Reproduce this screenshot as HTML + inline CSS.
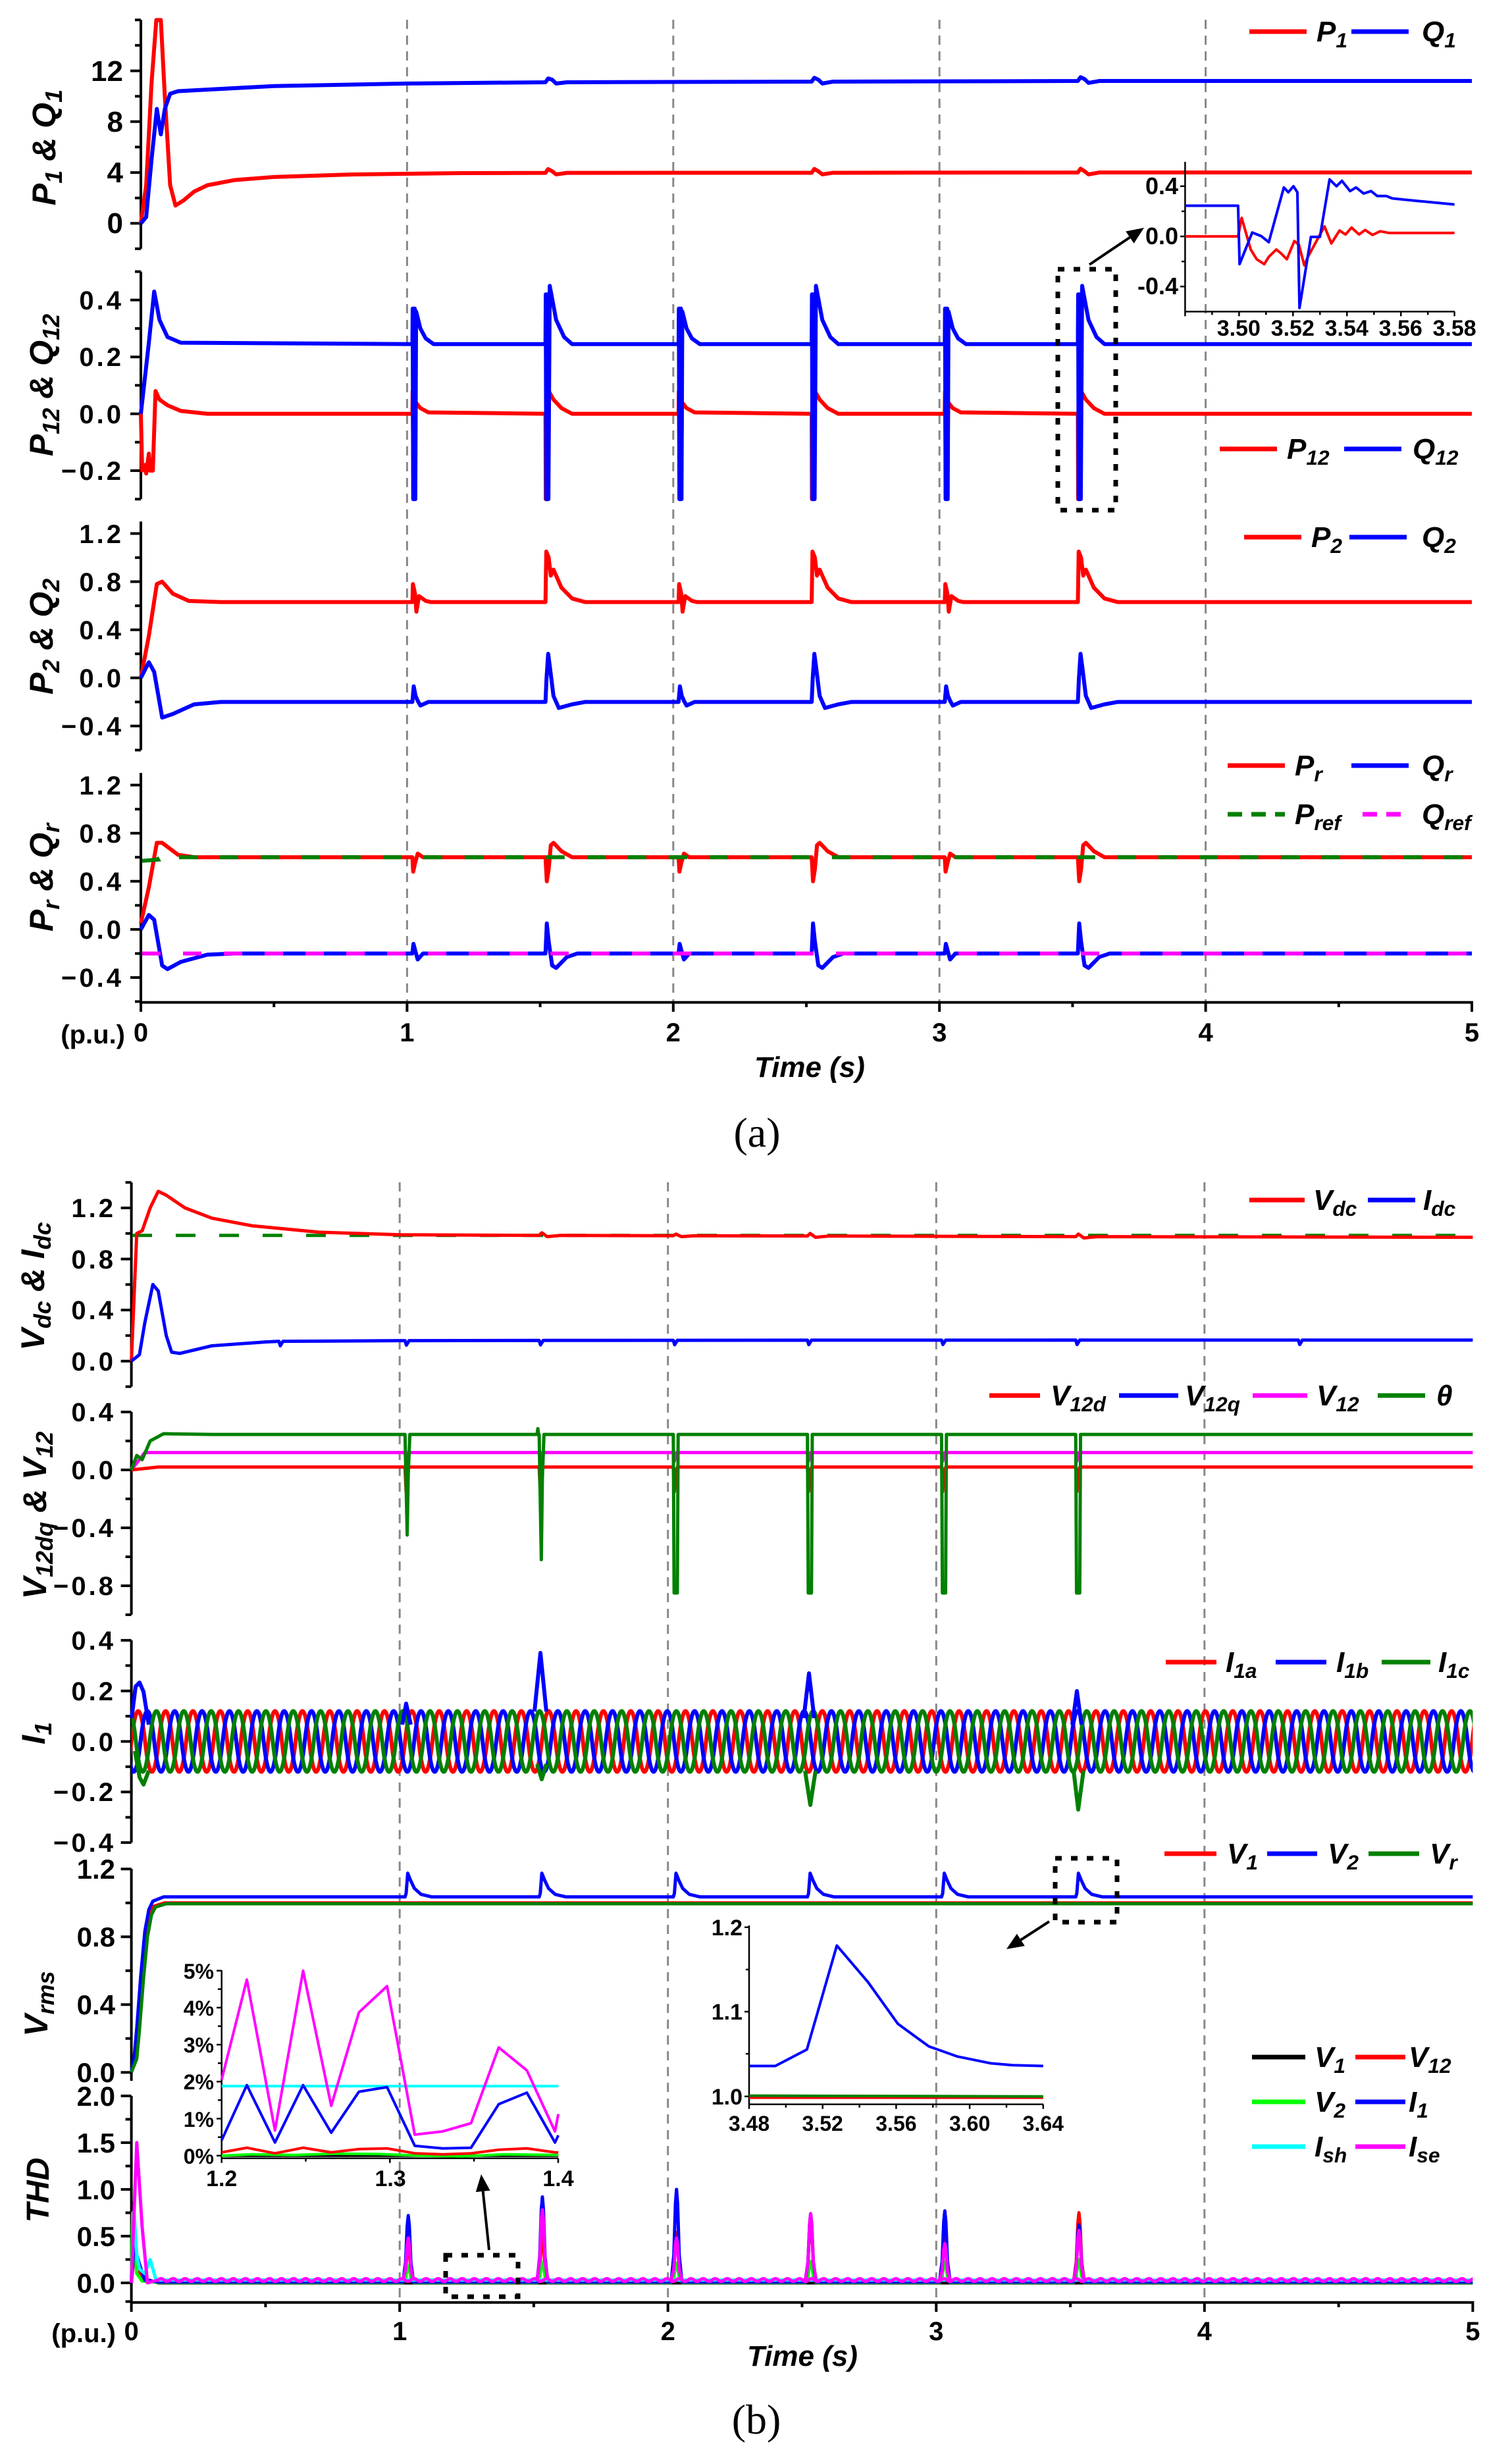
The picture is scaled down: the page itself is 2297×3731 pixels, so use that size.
<!DOCTYPE html>
<html><head><meta charset="utf-8"><style>
body{margin:0;background:#fff}svg{display:block}
.d polyline,.d path{vector-effect:non-scaling-stroke;fill:none;stroke-linejoin:round}
text{font-family:"Liberation Sans",Arial,sans-serif;font-weight:bold}
.it{font-style:italic}
.ax{stroke:#000;stroke-width:4;fill:none}
.ix{stroke:#000;stroke-width:2.5;fill:none}
.grid{stroke:#888;stroke-width:3;stroke-dasharray:14 10}
</style></head>
<body>
<svg xmlns="http://www.w3.org/2000/svg" width="2297" height="3731" viewBox="0 0 2297 3731">
<defs>
<pattern id="wr" patternUnits="userSpaceOnUse" x="199.6" y="2545.5" width="41.57" height="200"><path d="M-20.78,100 Q-10.39,192.2 0,100 T20.78,100 T41.57,100 T62.35,100" fill="none" stroke="#f00" stroke-width="6"/></pattern>
<pattern id="wb" patternUnits="userSpaceOnUse" x="213.5" y="2545.5" width="41.57" height="200"><path d="M-20.78,100 Q-10.39,192.2 0,100 T20.78,100 T41.57,100 T62.35,100" fill="none" stroke="#00f" stroke-width="6"/></pattern>
<pattern id="wg" patternUnits="userSpaceOnUse" x="185.7" y="2545.5" width="41.57" height="200"><path d="M-20.78,100 Q-10.39,192.2 0,100 T20.78,100 T41.57,100 T62.35,100" fill="none" stroke="#008000" stroke-width="6"/></pattern>
<pattern id="wm" patternUnits="userSpaceOnUse" x="240" y="3453.7" width="18.3" height="20"><path d="M-9.15,10 Q-4.575,14 0,10 T9.15,10 T18.3,10 T27.45,10" fill="none" stroke="#f0f" stroke-width="5"/></pattern>
</defs>
<rect width="2297" height="3731" fill="#fff"/>

<!-- grid lines -->
<path class="grid" d="M618.4,30V1522 M1022.8,30V1522 M1427.2,30V1522 M1831.6,30V1522 M607.2,1796V3497 M1014.7,1796V3497 M1422.3,1796V3497 M1829.8,1796V3497"/>

<!-- ========== PANEL A axes ========== -->
<path class="ax" d="M214,30.3V377.9 M198,339.3H214 M198,262.1H214 M198,184.8H214 M198,107.6H214 M205,377.9H214 M205,300.7H214 M205,223.4H214 M205,146.2H214 M205,68.9H214 M205,30.3H214"/>
<g font-size="44" text-anchor="end"><text x="187" y="354">0</text><text x="187" y="277">4</text><text x="187" y="200">8</text><text x="187" y="123">12</text></g>
<path class="ax" d="M214,412.6V758.2 M198,715H214 M198,628.6H214 M198,542.2H214 M198,455.8H214 M205,758.2H214 M205,671.8H214 M205,585.4H214 M205,499H214 M205,412.6H214"/>
<g font-size="40" text-anchor="end" letter-spacing="4"><text x="188" y="729">−0.2</text><text x="188" y="643">0.0</text><text x="188" y="556">0.2</text><text x="188" y="470">0.4</text></g>
<path class="ax" d="M214,792.2V1139.5 M198,1102.9H214 M198,1029.8H214 M198,956.7H214 M198,883.6H214 M198,810.5H214 M205,1139.5H214 M205,1066.4H214 M205,993.3H214 M205,920.2H214 M205,847.1H214"/>
<g font-size="40" text-anchor="end" letter-spacing="4"><text x="188" y="1117">−0.4</text><text x="188" y="1044">0.0</text><text x="188" y="971">0.4</text><text x="188" y="898">0.8</text><text x="188" y="825">1.2</text></g>
<path class="ax" d="M214,1174.3V1521.5 M198,1485H214 M198,1411.9H214 M198,1338.8H214 M198,1265.7H214 M198,1192.6H214 M205,1521.5H214 M205,1448.5H214 M205,1375.4H214 M205,1302.3H214 M205,1229.2H214"/>
<g font-size="40" text-anchor="end" letter-spacing="4"><text x="188" y="1499">−0.4</text><text x="188" y="1426">0.0</text><text x="188" y="1353">0.4</text><text x="188" y="1280">0.8</text><text x="188" y="1207">1.2</text></g>

<!-- a1 data -->
<g class="d" transform="translate(214 339.3) scale(404.4 -19.31)">
<polyline stroke="#f00" stroke-width="6" points="0,0 0.02,3 0.04,11 0.058,16 0.075,16 0.09,10 0.11,3 0.13,1.4 0.16,1.8 0.2,2.5 0.25,3 0.35,3.4 0.5,3.65 0.8,3.85 1.2,3.95 1.52,3.97 1.53,4.27 1.545,4.1 1.56,3.85 1.6,3.97 2.52,3.98 2.53,4.28 2.545,4.1 2.56,3.85 2.6,3.98 3.52,4 3.53,4.3 3.545,4.1 3.56,3.85 3.6,4 5,4"/>
<polyline stroke="#00f" stroke-width="6" points="0,0 0.02,0.5 0.04,5 0.06,9 0.075,7 0.09,9 0.11,10.2 0.14,10.4 0.5,10.8 1,11 1.52,11.1 1.53,11.4 1.545,11.3 1.56,11 1.6,11.1 2.52,11.15 2.53,11.45 2.545,11.3 2.56,11 2.6,11.15 3.52,11.2 3.53,11.5 3.545,11.35 3.56,11.05 3.6,11.2 5,11.2"/>
</g>
<!-- a2 data -->
<g class="d" transform="translate(214 628.6) scale(404.4 -432)">
<polyline stroke="#f00" stroke-width="6" points="0,0 0.005,-0.2 0.015,-0.18 0.02,-0.21 0.03,-0.14 0.035,-0.2 0.045,-0.2 0.055,0.08 0.07,0.05 0.1,0.03 0.15,0.01 0.25,0 1.02,0 1.021,0.08 1.023,-0.12 1.025,0.08 1.027,-0.12 1.029,0.08 1.031,-0.12 1.033,0.04 1.05,0.02 1.08,0.005 1.52,0 1.521,-0.3 1.523,0 1.525,-0.3 1.527,0 1.529,-0.28 1.532,0.08 1.55,0.05 1.58,0.02 1.62,0 2.02,0 2.021,0.08 2.023,-0.12 2.025,0.08 2.027,-0.12 2.029,0.08 2.031,-0.12 2.033,0.04 2.05,0.02 2.08,0.005 2.52,0 2.521,-0.3 2.523,0 2.525,-0.3 2.527,0 2.529,-0.28 2.532,0.08 2.55,0.05 2.58,0.02 2.62,0 3.02,0 3.021,0.08 3.023,-0.12 3.025,0.08 3.027,-0.12 3.029,0.08 3.031,-0.12 3.033,0.04 3.05,0.02 3.08,0.005 3.52,0 3.521,-0.3 3.523,0 3.525,-0.3 3.527,0 3.529,-0.28 3.532,0.08 3.55,0.05 3.58,0.02 3.62,0 5,0"/>
<polyline stroke="#00f" stroke-width="6" points="0,0 0.03,0.25 0.05,0.43 0.07,0.33 0.1,0.27 0.15,0.25 1.02,0.245 1.021,0.37 1.023,-0.3 1.025,0.37 1.027,-0.3 1.029,0.37 1.031,-0.3 1.034,0.36 1.05,0.3 1.07,0.265 1.1,0.245 1.52,0.245 1.521,0.42 1.523,-0.3 1.525,0.42 1.527,-0.3 1.529,0.42 1.531,-0.3 1.536,0.45 1.56,0.33 1.59,0.27 1.62,0.245 2.02,0.245 2.021,0.37 2.023,-0.3 2.025,0.37 2.027,-0.3 2.029,0.37 2.031,-0.3 2.034,0.36 2.05,0.3 2.07,0.265 2.1,0.245 2.52,0.245 2.521,0.42 2.523,-0.3 2.525,0.42 2.527,-0.3 2.529,0.42 2.531,-0.3 2.536,0.45 2.56,0.33 2.59,0.27 2.62,0.245 3.02,0.245 3.021,0.37 3.023,-0.3 3.025,0.37 3.027,-0.3 3.029,0.37 3.031,-0.3 3.034,0.36 3.05,0.3 3.07,0.265 3.1,0.245 3.52,0.245 3.521,0.42 3.523,-0.3 3.525,0.42 3.527,-0.3 3.529,0.42 3.531,-0.3 3.536,0.45 3.56,0.33 3.59,0.27 3.62,0.245 5,0.245"/>
</g>
<!-- a3 data -->
<g class="d" transform="translate(214 1029.8) scale(404.4 -182.75)">
<polyline stroke="#f00" stroke-width="6" points="0,0 0.03,0.35 0.06,0.78 0.08,0.8 0.12,0.7 0.18,0.64 0.3,0.63 1.02,0.63 1.022,0.78 1.03,0.7 1.035,0.55 1.045,0.68 1.07,0.64 1.09,0.63 1.52,0.63 1.523,1.05 1.532,1.0 1.54,0.85 1.55,0.9 1.58,0.75 1.62,0.66 1.67,0.63 2.02,0.63 2.022,0.78 2.03,0.7 2.035,0.55 2.045,0.68 2.07,0.64 2.09,0.63 2.52,0.63 2.523,1.05 2.532,1.0 2.54,0.85 2.55,0.9 2.58,0.75 2.62,0.66 2.67,0.63 3.02,0.63 3.022,0.78 3.03,0.7 3.035,0.55 3.045,0.68 3.07,0.64 3.09,0.63 3.52,0.63 3.523,1.05 3.532,1.0 3.54,0.85 3.55,0.9 3.58,0.75 3.62,0.66 3.67,0.63 5,0.63"/>
<polyline stroke="#00f" stroke-width="6" points="0,0 0.03,0.13 0.05,0.05 0.08,-0.33 0.12,-0.3 0.2,-0.22 0.3,-0.2 1.02,-0.2 1.025,-0.07 1.032,-0.15 1.04,-0.19 1.05,-0.23 1.08,-0.2 1.52,-0.2 1.524,0 1.53,0.2 1.536,0.1 1.55,-0.15 1.57,-0.25 1.62,-0.22 1.67,-0.2 2.02,-0.2 2.025,-0.07 2.032,-0.15 2.04,-0.19 2.05,-0.23 2.08,-0.2 2.52,-0.2 2.524,0 2.53,0.2 2.536,0.1 2.55,-0.15 2.57,-0.25 2.62,-0.22 2.67,-0.2 3.02,-0.2 3.025,-0.07 3.032,-0.15 3.04,-0.19 3.05,-0.23 3.08,-0.2 3.52,-0.2 3.524,0 3.53,0.2 3.536,0.1 3.55,-0.15 3.57,-0.25 3.62,-0.22 3.67,-0.2 5,-0.2"/>
</g>
<!-- a4 data -->
<g class="d" transform="translate(214 1411.9) scale(404.4 -182.75)">
<polyline stroke="#f00" stroke-width="6" points="0,0.05 0.03,0.35 0.06,0.72 0.08,0.72 0.14,0.62 0.2,0.6 1.02,0.6 1.023,0.48 1.03,0.55 1.04,0.63 1.06,0.6 1.52,0.6 1.525,0.4 1.532,0.5 1.54,0.7 1.55,0.72 1.58,0.65 1.62,0.6 2.02,0.6 2.023,0.48 2.03,0.55 2.04,0.63 2.06,0.6 2.52,0.6 2.525,0.4 2.532,0.5 2.54,0.7 2.55,0.72 2.58,0.65 2.62,0.6 3.02,0.6 3.023,0.48 3.03,0.55 3.04,0.63 3.06,0.6 3.52,0.6 3.525,0.4 3.532,0.5 3.54,0.7 3.55,0.72 3.58,0.65 3.62,0.6 5,0.6"/>
<polyline stroke="#00f" stroke-width="6" points="0,0 0.03,0.12 0.05,0.08 0.08,-0.3 0.1,-0.33 0.15,-0.27 0.25,-0.21 0.35,-0.2 1.02,-0.2 1.024,-0.12 1.03,-0.17 1.04,-0.25 1.06,-0.2 1.52,-0.2 1.525,0.05 1.532,-0.1 1.545,-0.3 1.56,-0.32 1.6,-0.23 1.64,-0.2 2.02,-0.2 2.024,-0.12 2.03,-0.17 2.04,-0.25 2.06,-0.2 2.52,-0.2 2.525,0.05 2.532,-0.1 2.545,-0.3 2.56,-0.32 2.6,-0.23 2.64,-0.2 3.02,-0.2 3.024,-0.12 3.03,-0.17 3.04,-0.25 3.06,-0.2 3.52,-0.2 3.525,0.05 3.532,-0.1 3.545,-0.3 3.56,-0.32 3.6,-0.23 3.64,-0.2 5,-0.2"/>
</g>
<path d="M216,1307.7 L240,1305.9 L238,1302.3 H2236" stroke="#008000" stroke-width="6" fill="none" stroke-dasharray="28 34"/>
<path d="M216,1448.5 H2236" stroke="#f0f" stroke-width="6" fill="none" stroke-dasharray="28 34"/>

<!-- a bottom axis -->
<path class="ax" d="M212,1522.7H2238 M214,1522V1537 M416.2,1522V1530 M618.4,1522V1537 M820.6,1522V1530 M1022.8,1522V1537 M1225,1522V1530 M1427.2,1522V1537 M1629.4,1522V1530 M1831.6,1522V1537 M2033.8,1522V1530 M2236,1522V1537"/>
<g font-size="40" text-anchor="middle"><text x="214" y="1582">0</text><text x="618.4" y="1582">1</text><text x="1022.8" y="1582">2</text><text x="1427.2" y="1582">3</text><text x="1831.6" y="1582">4</text><text x="2236" y="1582">5</text></g>
<text x="190" y="1585" font-size="40" text-anchor="end">(p.u.)</text>
<text x="1230" y="1636" font-size="44" text-anchor="middle" class="it">Time (s)</text>
<text x="1150" y="1742" font-size="64" text-anchor="middle" style="font-family:'Liberation Serif',serif;font-weight:normal">(a)</text>

<!-- a y titles -->
<g font-size="50" text-anchor="middle" class="it">
<text x="84" y="224" transform="rotate(-90 84 224)">P<tspan baseline-shift="-28%" font-size="72%">1</tspan> &amp; Q<tspan baseline-shift="-28%" font-size="72%">1</tspan></text>
<text x="80" y="585" transform="rotate(-90 80 585)">P<tspan baseline-shift="-28%" font-size="72%">12</tspan> &amp; Q<tspan baseline-shift="-28%" font-size="72%">12</tspan></text>
<text x="80" y="967" transform="rotate(-90 80 967)">P<tspan baseline-shift="-28%" font-size="72%">2</tspan> &amp; Q<tspan baseline-shift="-28%" font-size="72%">2</tspan></text>
<text x="80" y="1333" transform="rotate(-90 80 1333)">P<tspan baseline-shift="-28%" font-size="72%">r</tspan> &amp; Q<tspan baseline-shift="-28%" font-size="72%">r</tspan></text>
</g>

<!-- a legends -->
<g stroke-width="7" fill="none">
<path d="M1898,48H1985" stroke="#f00"/><path d="M2053,48H2140" stroke="#00f"/>
<path d="M1853,682H1940" stroke="#f00"/><path d="M2042,682H2129" stroke="#00f"/>
<path d="M1890,816H1977" stroke="#f00"/><path d="M2050,816H2137" stroke="#00f"/>
<path d="M1865,1163H1952" stroke="#f00"/><path d="M2053,1163H2140" stroke="#00f"/>
<path d="M1865,1237H1952" stroke="#008000" stroke-dasharray="22 14"/><path d="M2070,1237H2140" stroke="#f0f" stroke-dasharray="22 14"/>
</g>
<g font-size="44" class="it">
<text x="2000" y="63">P<tspan baseline-shift="-28%" font-size="72%">1</tspan></text><text x="2160" y="63">Q<tspan baseline-shift="-28%" font-size="72%">1</tspan></text>
<text x="1955" y="697">P<tspan baseline-shift="-28%" font-size="72%">12</tspan></text><text x="2146" y="697">Q<tspan baseline-shift="-28%" font-size="72%">12</tspan></text>
<text x="1992" y="831">P<tspan baseline-shift="-28%" font-size="72%">2</tspan></text><text x="2160" y="831">Q<tspan baseline-shift="-28%" font-size="72%">2</tspan></text>
<text x="1967" y="1178">P<tspan baseline-shift="-28%" font-size="72%">r</tspan></text><text x="2160" y="1178">Q<tspan baseline-shift="-28%" font-size="72%">r</tspan></text>
<text x="1967" y="1252">P<tspan baseline-shift="-28%" font-size="72%">ref</tspan></text><text x="2160" y="1252">Q<tspan baseline-shift="-28%" font-size="72%">ref</tspan></text>
</g>

<!-- inset a -->
<path class="ix" d="M1800.4,245.9V473.4H2210 M1793,282.9H1800.4 M1795,321H1800.4 M1793,359.1H1800.4 M1795,397.2H1800.4 M1793,435.3H1800.4 M1800.4,473.4v7 M1841.4,473.4v5 M1882.4,473.4v7 M1923.3,473.4v5 M1964.3,473.4v7 M2005.3,473.4v5 M2046.3,473.4v7 M2087.3,473.4v5 M2128.2,473.4v7 M2169.2,473.4v5 M2209.6,473.4v7"/>
<g font-size="36" text-anchor="end"><text x="1790" y="295">0.4</text><text x="1790" y="371">0.0</text><text x="1790" y="447">-0.4</text></g>
<g font-size="34" text-anchor="middle"><text x="1881.8" y="510">3.50</text><text x="1963.8" y="510">3.52</text><text x="2045.7" y="510">3.54</text><text x="2127.7" y="510">3.56</text><text x="2209.6" y="510">3.58</text></g>
<g class="d" transform="translate(1580 220) scale(0.45725 0.36996)">
<polyline stroke="#f00" stroke-width="4" points="482,376 658,376 670,300 700,430 720,470 745,490 760,460 785,430 800,445 820,470 845,395 860,410 878,495 890,460 945,335 968,405 995,352 1015,368 1035,340 1060,368 1080,350 1105,370 1130,355 1160,362 1377,362"/>
<polyline stroke="#00f" stroke-width="4" points="482,250 658,250 663,490 705,360 735,375 760,400 810,175 825,195 842,170 855,195 862,670 900,378 930,378 962,142 985,170 1003,148 1030,190 1050,175 1075,200 1100,190 1120,210 1150,210 1170,220 1250,230 1377,245"/>
</g>
<rect x="1607" y="409" width="88" height="366" fill="none" stroke="#000" stroke-width="7" stroke-dasharray="10 14"/>
<path d="M1655,402L1716.4,360.6" stroke="#000" stroke-width="4"/><polygon points="1738,346 1722.6,369.7 1710.2,351.5" fill="#000"/>

<!-- ========== PANEL B axes ========== -->
<path class="ax" d="M199.6,1796.2V2106.5 M183.6,2067.7H199.6 M183.6,1990.1H199.6 M183.6,1912.6H199.6 M183.6,1835H199.6 M190.6,2106.5H199.6 M190.6,2028.9H199.6 M190.6,1951.4H199.6 M190.6,1873.8H199.6 M190.6,1796.2H199.6"/>
<g font-size="40" text-anchor="end" letter-spacing="4"><text x="176" y="2082">0.0</text><text x="176" y="2004">0.4</text><text x="176" y="1927">0.8</text><text x="176" y="1849">1.2</text></g>
<path class="ax" d="M199.6,2145V2453 M183.6,2145H199.6 M183.6,2233H199.6 M183.6,2321H199.6 M183.6,2409H199.6 M190.6,2189H199.6 M190.6,2277H199.6 M190.6,2365H199.6 M190.6,2453H199.6"/>
<g font-size="40" text-anchor="end" letter-spacing="4"><text x="176" y="2159">0.4</text><text x="176" y="2247">0.0</text><text x="176" y="2335">−0.4</text><text x="176" y="2423">−0.8</text></g>
<path class="ax" d="M199.6,2491.9V2799.1 M183.6,2491.9H199.6 M183.6,2568.7H199.6 M183.6,2645.5H199.6 M183.6,2722.3H199.6 M183.6,2799.1H199.6 M190.6,2530.3H199.6 M190.6,2607.1H199.6 M190.6,2683.9H199.6 M190.6,2760.7H199.6"/>
<g font-size="40" text-anchor="end" letter-spacing="4"><text x="176" y="2506">0.4</text><text x="176" y="2583">0.2</text><text x="176" y="2660">0.0</text><text x="176" y="2736">−0.2</text><text x="176" y="2813">−0.4</text></g>
<path class="ax" d="M199.6,2839V3161 M183.6,3148.2H199.6 M183.6,3045.2H199.6 M183.6,2942.2H199.6 M183.6,2839.2H199.6 M190.6,3096.7H199.6 M190.6,2993.7H199.6 M190.6,2890.7H199.6"/>
<g font-size="42" text-anchor="end"><text x="175" y="3163">0.0</text><text x="175" y="3060">0.4</text><text x="175" y="2957">0.8</text><text x="175" y="2854">1.2</text></g>
<path class="ax" d="M199.6,3184V3496.4 M183.6,3468H199.6 M183.6,3397H199.6 M183.6,3326H199.6 M183.6,3255H199.6 M183.6,3184H199.6 M190.6,3432.5H199.6 M190.6,3361.5H199.6 M190.6,3290.5H199.6 M190.6,3219.5H199.6 M190.6,3496.4H199.6"/>
<g font-size="42" text-anchor="end"><text x="175" y="3483">0.0</text><text x="175" y="3412">0.5</text><text x="175" y="3341">1.0</text><text x="175" y="3270">1.5</text><text x="175" y="3199">2.0</text></g>

<!-- b1 data -->
<path d="M201,1876.7H2237" stroke="#008000" stroke-width="5" fill="none" stroke-dasharray="30 36"/>
<g class="d" transform="translate(199.6 2067.7) scale(407.56 -193.9)">
<polyline stroke="#f00" stroke-width="5" points="0,0 0.02,1 0.04,1.02 0.07,1.2 0.1,1.33 0.13,1.3 0.2,1.2 0.3,1.12 0.45,1.06 0.7,1.01 1,0.99 1.52,0.985 1.53,1.005 1.55,0.975 1.6,0.985 2.02,0.982 2.03,0.995 2.05,0.975 2.1,0.982 2.52,0.98 2.53,1.0 2.55,0.97 2.6,0.98 3,0.978 3.52,0.975 3.53,0.995 3.55,0.965 3.6,0.975 5,0.97"/>
<polyline stroke="#00f" stroke-width="5" points="0,0 0.03,0.05 0.05,0.3 0.08,0.6 0.1,0.55 0.13,0.2 0.15,0.07 0.18,0.06 0.3,0.12 0.5,0.15 0.55,0.155 0.555,0.12 0.565,0.155 1,0.16 1.02,0.16 1.025,0.125 1.035,0.16 1.52,0.162 1.525,0.127 1.535,0.162 2.02,0.163 2.025,0.128 2.035,0.163 2.52,0.164 2.525,0.129 2.535,0.164 3.02,0.164 3.025,0.13 3.035,0.164 3.52,0.165 3.525,0.13 3.535,0.165 4.35,0.165 4.355,0.13 4.365,0.165 5,0.165"/>
</g>
<!-- b2 data -->
<g class="d" transform="translate(199.6 2233) scale(407.56 -220)">
<polyline stroke="#f0f" stroke-width="5" points="0,0 0.05,0.12 1.02,0.12 1.024,0.06 1.032,0.12 1.52,0.12 1.524,0.06 1.532,0.12 2.02,0.12 2.024,0.06 2.032,0.12 2.52,0.12 2.524,0.06 2.532,0.12 3.02,0.12 3.024,0.06 3.032,0.12 3.52,0.12 3.524,0.06 3.532,0.12 5,0.12"/>
<polyline stroke="#f00" stroke-width="5" points="0,0 0.1,0.02 1.02,0.02 1.024,-0.15 1.03,0 1.036,0.02 1.52,0.02 1.524,-0.15 1.53,0 1.536,0.02 2.02,0.02 2.024,-0.15 2.03,0 2.036,0.02 2.52,0.02 2.524,-0.15 2.53,0 2.536,0.02 3.02,0.02 3.024,-0.15 3.03,0 3.036,0.02 3.52,0.02 3.524,-0.15 3.53,0 3.536,0.02 5,0.02"/>
<polyline stroke="#008000" stroke-width="5" points="0,0 0.02,0.1 0.04,0.07 0.07,0.2 0.12,0.25 0.3,0.245 1.02,0.245 1.024,-0.1 1.028,-0.45 1.032,-0.03 1.038,0.245 1.512,0.245 1.515,0.285 1.518,0.245 1.52,0.245 1.524,-0.2 1.528,-0.62 1.532,-0.05 1.538,0.245 2.02,0.245 2.023,-0.85 2.035,-0.85 2.038,0.245 2.52,0.245 2.523,-0.85 2.535,-0.85 2.538,0.245 3.02,0.245 3.023,-0.85 3.035,-0.85 3.038,0.245 3.52,0.245 3.523,-0.85 3.535,-0.85 3.538,0.245 5,0.245"/>
</g>
<!-- b3 data -->
<rect x="199.6" y="2545.5" width="2037.8" height="200" fill="url(#wr)"/>
<rect x="199.6" y="2545.5" width="2037.8" height="200" fill="url(#wb)"/>
<rect x="199.6" y="2545.5" width="2037.8" height="200" fill="url(#wg)"/>
<g fill="none" stroke-width="6" stroke-linejoin="round">
<path stroke="#00f" d="M200,2610 L206,2562 L212,2556 L218,2570 L226,2620 M812,2600 L821,2511 L830,2600 M1221,2610 L1229,2542 L1237,2610 M1629,2620 L1636,2569 L1643,2620 M611,2620 L617,2588 L624,2620"/>
<path stroke="#008000" d="M205,2660 L212,2700 L218,2711 L226,2690 M816,2680 L823,2703 L830,2680 M1223,2690 L1231,2742 L1239,2690 M1631,2690 L1638,2749 L1646,2690"/>
</g>
<!-- b4 data -->
<g class="d" transform="translate(199.6 3148.2) scale(407.56 -257.5)">
<polyline stroke="#f00" stroke-width="5" points="0,0 0.014,0.08 0.024,0.25 0.039,0.55 0.054,0.8 0.069,0.93 0.084,0.98 0.124,1 5,1"/>
<polyline stroke="#00f" stroke-width="5" points="0,0 0.01,0.083 0.02,0.26 0.035,0.57 0.05,0.83 0.065,0.96 0.08,1.01 0.12,1.035 1.02,1.035 1.024,1.055 1.03,1.175 1.04,1.135 1.055,1.085 1.08,1.05 1.12,1.035 1.52,1.035 1.524,1.055 1.53,1.175 1.54,1.135 1.555,1.085 1.58,1.05 1.62,1.035 2.02,1.035 2.024,1.055 2.03,1.175 2.04,1.135 2.055,1.085 2.08,1.05 2.12,1.035 2.52,1.035 2.524,1.055 2.53,1.175 2.54,1.135 2.555,1.085 2.58,1.05 2.62,1.035 3.02,1.035 3.024,1.055 3.03,1.175 3.04,1.135 3.055,1.085 3.08,1.05 3.12,1.035 3.52,1.035 3.524,1.055 3.53,1.175 3.54,1.135 3.555,1.085 3.58,1.05 3.62,1.035 5,1.035"/>
<polyline stroke="#008000" stroke-width="5" points="0,0 0.02,0.08 0.03,0.25 0.045,0.55 0.06,0.8 0.075,0.93 0.09,0.975 0.13,0.995 5,0.995"/>
</g>
<!-- THD data -->
<g class="d" transform="translate(199.6 3468) scale(407.56 -142)">
<polyline stroke="#000" stroke-width="5" points="0,0 0.005,0.85 0.02,0.2 0.04,0.05 0.1,0 5,0"/>
<polyline stroke="#f00" stroke-width="5" points="0,0 0.01,0.3 0.03,0.1 0.04,0.02 0.1,0.01 1.012,0.01 1.022,0.12 1.028,0.34 1.032,0.4 1.036,0.34 1.042,0.12 1.052,0.01 1.512,0.01 1.522,0.15 1.528,0.425 1.532,0.5 1.536,0.425 1.542,0.15 1.552,0.01 2.012,0.01 2.022,0.162 2.028,0.459 2.032,0.54 2.036,0.459 2.042,0.162 2.052,0.01 2.512,0.01 2.522,0.21 2.528,0.595 2.532,0.7 2.536,0.595 2.542,0.21 2.552,0.01 3.012,0.01 3.022,0.189 3.028,0.536 3.032,0.63 3.036,0.536 3.042,0.189 3.052,0.01 3.512,0.01 3.522,0.225 3.528,0.638 3.532,0.75 3.536,0.638 3.542,0.225 3.552,0.01 5,0.01"/>
<polyline stroke="#0f0" stroke-width="5" points="0,0 0.005,0.75 0.02,0.1 0.04,0.02 0.1,0.005 1.012,0.005 1.022,0.054 1.028,0.153 1.032,0.18 1.036,0.153 1.042,0.054 1.052,0.005 1.512,0.005 1.522,0.066 1.528,0.187 1.532,0.22 1.536,0.187 1.542,0.066 1.552,0.005 2.012,0.005 2.022,0.063 2.028,0.179 2.032,0.21 2.036,0.179 2.042,0.063 2.052,0.005 2.512,0.005 2.522,0.069 2.528,0.196 2.532,0.23 2.536,0.196 2.542,0.069 2.552,0.005 3.012,0.005 3.022,0.069 3.028,0.196 3.032,0.23 3.036,0.196 3.042,0.069 3.052,0.005 3.512,0.005 3.522,0.075 3.528,0.213 3.532,0.25 3.536,0.213 3.542,0.075 3.552,0.005 5,0.005"/>
<polyline stroke="#00f" stroke-width="5" points="0,0 0.01,0.4 0.03,0.2 0.05,0.03 0.1,0.01 1.012,0.01 1.022,0.216 1.028,0.612 1.032,0.72 1.036,0.612 1.042,0.216 1.052,0.01 1.512,0.01 1.522,0.276 1.528,0.782 1.532,0.92 1.536,0.782 1.542,0.276 1.552,0.01 2.012,0.01 2.022,0.3 2.028,0.85 2.032,1 2.036,0.85 2.042,0.3 2.052,0.01 2.512,0.01 2.522,0.222 2.528,0.629 2.532,0.74 2.536,0.629 2.542,0.222 2.552,0.01 3.012,0.01 3.022,0.231 3.028,0.655 3.032,0.77 3.036,0.655 3.042,0.231 3.052,0.01 3.512,0.01 3.522,0.186 3.528,0.527 3.532,0.62 3.536,0.527 3.542,0.186 3.552,0.01 5,0.01"/>
<polyline stroke="#0ff" stroke-width="5" points="0,0 0.01,0.75 0.02,0.3 0.03,0.15 0.05,0.1 0.07,0.25 0.09,0.05 0.1,0.03 5,0.03"/>
</g>
<rect x="240" y="3453.7" width="1997.4" height="20" fill="url(#wm)"/>
<g class="d" transform="translate(199.6 3468) scale(407.56 -142)">
<polyline stroke="#f0f" stroke-width="5" points="0,0 0.02,1.5 0.04,0.6 0.06,0 0.1,0.03"/>
<polyline stroke="#f0f" stroke-width="5" points="1.012,0.03 1.022,0.144 1.028,0.408 1.032,0.48 1.036,0.408 1.042,0.144 1.052,0.03"/>
<polyline stroke="#f0f" stroke-width="5" points="1.512,0.03 1.522,0.234 1.528,0.663 1.532,0.78 1.536,0.663 1.542,0.234 1.552,0.03"/>
<polyline stroke="#f0f" stroke-width="5" points="2.012,0.03 2.022,0.144 2.028,0.408 2.032,0.48 2.036,0.408 2.042,0.144 2.052,0.03"/>
<polyline stroke="#f0f" stroke-width="5" points="2.512,0.03 2.522,0.222 2.528,0.629 2.532,0.74 2.536,0.629 2.542,0.222 2.552,0.03"/>
<polyline stroke="#f0f" stroke-width="5" points="3.012,0.03 3.022,0.126 3.028,0.357 3.032,0.42 3.036,0.357 3.042,0.126 3.052,0.03"/>
<polyline stroke="#f0f" stroke-width="5" points="3.512,0.03 3.522,0.168 3.528,0.476 3.532,0.56 3.536,0.476 3.542,0.168 3.552,0.03"/>
</g>

<!-- b bottom axis -->
<path class="ax" d="M197.6,3497.8H2239.4 M199.6,3497V3512 M403.4,3497V3505 M607.2,3497V3512 M810.9,3497V3505 M1014.7,3497V3512 M1218.5,3497V3505 M1422.3,3497V3512 M1626.1,3497V3505 M1829.8,3497V3512 M2033.6,3497V3505 M2237.4,3497V3512"/>
<g font-size="40" text-anchor="middle"><text x="199.6" y="3555">0</text><text x="607.2" y="3555">1</text><text x="1014.7" y="3555">2</text><text x="1422.3" y="3555">3</text><text x="1829.8" y="3555">4</text><text x="2237.4" y="3555">5</text></g>
<text x="176" y="3558" font-size="40" text-anchor="end">(p.u.)</text>
<text x="1219" y="3594" font-size="44" text-anchor="middle" class="it">Time (s)</text>
<text x="1149" y="3697" font-size="64" text-anchor="middle" style="font-family:'Liberation Serif',serif;font-weight:normal">(b)</text>

<!-- b y titles -->
<g font-size="50" text-anchor="middle" class="it">
<text x="67" y="1954" transform="rotate(-90 67 1954)">V<tspan baseline-shift="-28%" font-size="72%">dc</tspan> &amp; I<tspan baseline-shift="-28%" font-size="72%">dc</tspan></text>
<text x="70" y="2302" transform="rotate(-90 70 2302)">V<tspan baseline-shift="-28%" font-size="72%">12dq</tspan> &amp; V<tspan baseline-shift="-28%" font-size="72%">12</tspan></text>
<text x="68" y="2633" transform="rotate(-90 68 2633)">I<tspan baseline-shift="-28%" font-size="72%">1</tspan></text>
<text x="72" y="3044" transform="rotate(-90 72 3044)">V<tspan baseline-shift="-28%" font-size="72%">rms</tspan></text>
<text x="74" y="3327" transform="rotate(-90 74 3327)" font-size="48">THD</text>
</g>

<!-- b legends -->
<g stroke-width="7" fill="none">
<path d="M1898,1823H1982" stroke="#f00"/><path d="M2078,1823H2150" stroke="#00f"/>
<path d="M1503,2120H1580" stroke="#f00"/><path d="M1700,2120H1790" stroke="#00f"/><path d="M1903,2120H1986" stroke="#f0f"/><path d="M2093,2120H2165" stroke="#008000"/>
<path d="M1771,2525H1848" stroke="#f00"/><path d="M1938,2525H2015" stroke="#00f"/><path d="M2099,2525H2173" stroke="#008000"/>
<path d="M1769,2816H1848" stroke="#f00"/><path d="M1925,2816H2001" stroke="#00f"/><path d="M2079,2816H2156" stroke="#008000"/>
<path d="M1902,3125H1983" stroke="#000"/><path d="M2059,3125H2135" stroke="#f00"/>
<path d="M1902,3193H1983" stroke="#0f0"/><path d="M2059,3193H2135" stroke="#00f"/>
<path d="M1902,3261H1983" stroke="#0ff"/><path d="M2059,3261H2135" stroke="#f0f"/>
</g>
<g font-size="44" class="it">
<text x="1995" y="1838">V<tspan baseline-shift="-28%" font-size="72%">dc</tspan></text><text x="2162" y="1838">I<tspan baseline-shift="-28%" font-size="72%">dc</tspan></text>
<text x="1596" y="2135">V<tspan baseline-shift="-28%" font-size="72%">12d</tspan></text><text x="1800" y="2135">V<tspan baseline-shift="-28%" font-size="72%">12q</tspan></text><text x="2000" y="2135">V<tspan baseline-shift="-28%" font-size="72%">12</tspan></text><text x="2182" y="2135">θ</text>
<text x="1862" y="2540">I<tspan baseline-shift="-28%" font-size="72%">1a</tspan></text><text x="2030" y="2540">I<tspan baseline-shift="-28%" font-size="72%">1b</tspan></text><text x="2185" y="2540">I<tspan baseline-shift="-28%" font-size="72%">1c</tspan></text>
<text x="1864" y="2831">V<tspan baseline-shift="-28%" font-size="72%">1</tspan></text><text x="2017" y="2831">V<tspan baseline-shift="-28%" font-size="72%">2</tspan></text><text x="2172" y="2831">V<tspan baseline-shift="-28%" font-size="72%">r</tspan></text>
<text x="1997" y="3140">V<tspan baseline-shift="-28%" font-size="72%">1</tspan></text><text x="2140" y="3140">V<tspan baseline-shift="-28%" font-size="72%">12</tspan></text>
<text x="1997" y="3208">V<tspan baseline-shift="-28%" font-size="72%">2</tspan></text><text x="2140" y="3208">I<tspan baseline-shift="-28%" font-size="72%">1</tspan></text>
<text x="1997" y="3276">I<tspan baseline-shift="-28%" font-size="72%">sh</tspan></text><text x="2140" y="3276">I<tspan baseline-shift="-28%" font-size="72%">se</tspan></text>
</g>

<!-- Vrms inset -->
<path class="ix" d="M1138,2925V3196.7H1585 M1131,2927.7H1138 M1133,2992H1138 M1131,3056H1138 M1133,3120H1138 M1131,3184.8H1138 M1138,3196.7v7 M1193.9,3196.7v5 M1249.7,3196.7v7 M1305.6,3196.7v5 M1361.4,3196.7v7 M1417.3,3196.7v5 M1473.1,3196.7v7 M1529,3196.7v5 M1584.8,3196.7v7"/>
<g font-size="34" text-anchor="end"><text x="1128" y="2940">1.2</text><text x="1128" y="3068">1.1</text><text x="1128" y="3197">1.0</text></g>
<g font-size="32" text-anchor="middle"><text x="1138" y="3237">3.48</text><text x="1249.7" y="3237">3.52</text><text x="1361.4" y="3237">3.56</text><text x="1473.1" y="3237">3.60</text><text x="1584.8" y="3237">3.64</text></g>
<g class="d" transform="translate(1000 2800) scale(0.82713 0.59382)">
<polyline stroke="#f00" stroke-width="4" points="167,651 707,651"/>
<polyline stroke="#008000" stroke-width="4" points="167,646 707,648"/>
<polyline stroke="#00f" stroke-width="4" points="167,570 215,570 273,528 328,262 385,355 440,462 497,520 550,546 610,563 650,568 707,570"/>
</g>
<rect x="1603" y="2823" width="94" height="97" fill="none" stroke="#000" stroke-width="7" stroke-dasharray="10 14"/>
<path d="M1594,2919L1550.8,2946.9" stroke="#000" stroke-width="4"/><polygon points="1529,2961 1544.8,2937.7 1556.8,2956.1" fill="#000"/>

<!-- THD inset -->
<path class="ix" d="M336.7,2993V3278.7H848 M329,3274.7H336.7 M331,3246.6H336.7 M329,3218.5H336.7 M331,3190.4H336.7 M329,3162.3H336.7 M331,3134.2H336.7 M329,3106.1H336.7 M331,3078H336.7 M329,3049.9H336.7 M331,3021.8H336.7 M329,2993.7H336.7 M336.7,3278.7v7 M464.5,3278.7v5 M592.3,3278.7v7 M720.1,3278.7v5 M848,3278.7v7"/>
<g font-size="32" text-anchor="end"><text x="325" y="3287">0%</text><text x="325" y="3231">1%</text><text x="325" y="3174">2%</text><text x="325" y="3118">3%</text><text x="325" y="3062">4%</text><text x="325" y="3006">5%</text></g>
<g font-size="34" text-anchor="middle"><text x="336.7" y="3321">1.2</text><text x="593.1" y="3321">1.3</text><text x="848" y="3321">1.4</text></g>
<g class="d" transform="translate(0 2950) scale(0.63776 0.49801)">
<polyline stroke="#000" stroke-width="4" points="528,652 1330,652"/>
<polyline stroke="#0f0" stroke-width="4" points="528,652 600,648 700,650 800,646 900,647 1000,652 1100,654 1200,648 1330,650"/>
<polyline stroke="#f00" stroke-width="4" points="528,642 588,628 655,645 722,628 789,642 855,632 922,630 988,645 1055,648 1122,645 1188,634 1255,630 1322,642 1330,642"/>
<polyline stroke="#0ff" stroke-width="4" points="528,440 1330,440"/>
<polyline stroke="#00f" stroke-width="4" points="528,605 588,437 655,612 722,437 789,582 855,457 922,443 988,622 1055,630 1122,628 1188,495 1255,460 1322,612 1330,590"/>
<polyline stroke="#f0f" stroke-width="4" points="528,420 588,115 655,575 722,88 789,500 855,215 922,135 988,588 1055,578 1122,553 1188,322 1255,392 1322,578 1330,525"/>
</g>
<rect x="677" y="3426" width="110" height="63" fill="none" stroke="#000" stroke-width="7" stroke-dasharray="10 14"/>
<path d="M743,3418L733.7,3328.9" stroke="#000" stroke-width="4"/><polygon points="731,3303 744.6,3327.8 722.8,3330" fill="#000"/>
</svg>
</body></html>
